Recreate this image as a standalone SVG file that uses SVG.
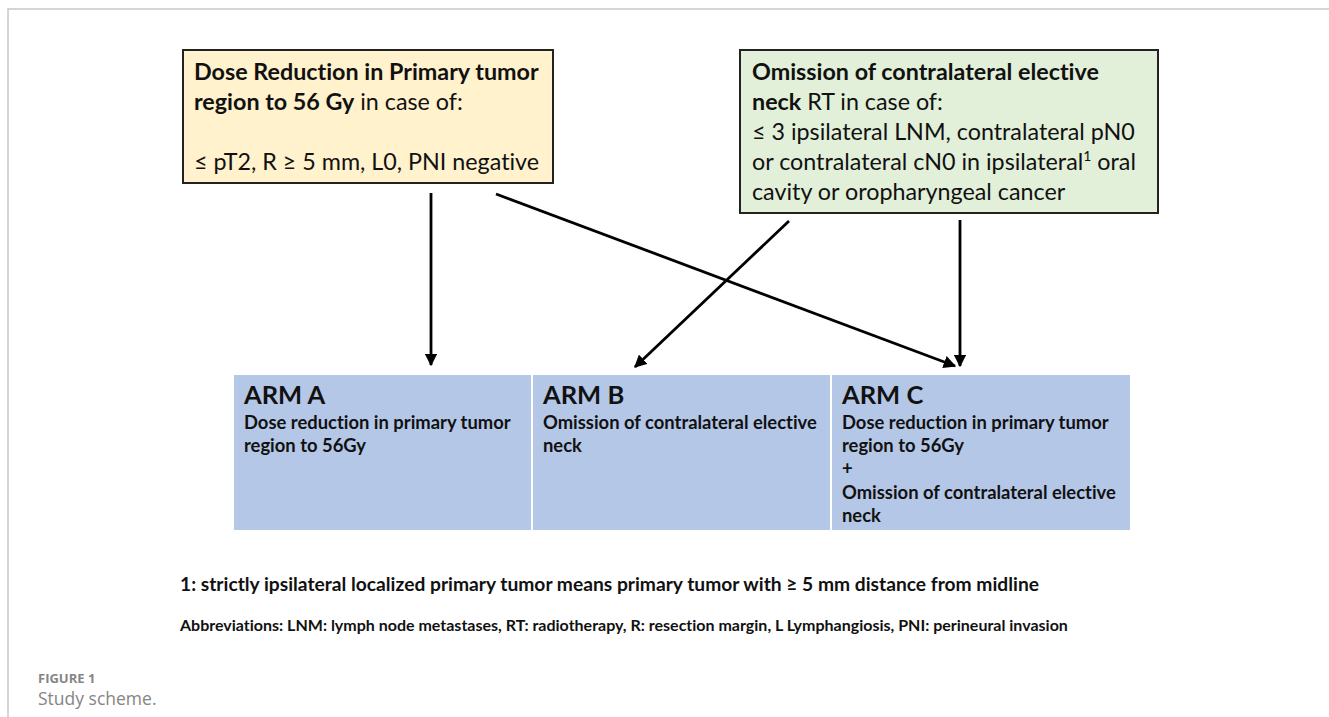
<svg xmlns="http://www.w3.org/2000/svg" width="1329" height="717" viewBox="0 0 1329 717">
<defs>
<marker id="ah" viewBox="0 0 10 10" refX="9" refY="5" markerWidth="4.5" markerHeight="4.5" orient="auto" markerUnits="strokeWidth">
<path d="M0,0 L10,5 L0,10 z" fill="#000"/>
</marker>
<style>
.t{font-family:Lato,"Liberation Sans",sans-serif;fill:#111;font-variant-ligatures:none}
.box{font-size:23.3px}
.b{font-weight:bold}
.arm{font-size:25.5px;font-weight:bold}
.sub{font-size:18.4px;font-weight:bold}
.foot{font-weight:bold}
.cap{font-family:"Open Sans","Liberation Sans",sans-serif;fill:#858585}
.conn{stroke:#000;stroke-width:2.8;fill:none;marker-end:url(#ah)}
</style>
</defs>
<rect width="1329" height="717" fill="#fff"/>
<path d="M8,717 V9 H1329" fill="none" stroke="#c8c8c8" stroke-width="1.5"/>

<g id="node-dose">
<rect x="183" y="50" width="370" height="133" fill="#fff2cc" stroke="#222" stroke-width="2"/>
<text class="t box" x="194" y="80"><tspan class="b">Dose Reduction in Primary tumor</tspan></text>
<text class="t box" x="194" y="110"><tspan class="b">region to 56 Gy</tspan> in case of:</text>
<text class="t box" x="194" y="170">≤ pT2, R ≥ 5 mm, L0, PNI negative</text>
</g>

<g id="node-omission">
<rect x="740" y="50" width="418" height="163" fill="#e2efd9" stroke="#222" stroke-width="2"/>
<text class="t box" x="752" y="80"><tspan class="b">Omission of contralateral elective</tspan></text>
<text class="t box" x="752" y="110"><tspan class="b">neck</tspan> RT in case of:</text>
<text class="t box" x="752" y="140">≤ 3 ipsilateral LNM, contralateral pN0</text>
<text class="t box" x="752" y="170">or contralateral cN0 in ipsilateral<tspan font-size="14" dy="-9">1</tspan><tspan dy="9"> oral</tspan></text>
<text class="t box" x="752" y="200">cavity or oropharyngeal cancer</text>
</g>

<g id="arm-a">
<rect x="234" y="375" width="297" height="155" fill="#b4c7e7"/>
<text class="t arm" x="244" y="404">ARM A</text>
<text class="t sub" x="244" y="429">Dose reduction in primary tumor</text>
<text class="t sub" x="244" y="452">region to 56Gy</text>
</g>

<g id="arm-b">
<rect x="533" y="375" width="297" height="155" fill="#b4c7e7"/>
<text class="t arm" x="543" y="404">ARM B</text>
<text class="t sub" x="543" y="429">Omission of contralateral elective</text>
<text class="t sub" x="543" y="452">neck</text>
</g>

<g id="arm-c">
<rect x="832" y="375" width="298" height="155" fill="#b4c7e7"/>
<text class="t arm" x="842" y="404">ARM C</text>
<text class="t sub" x="842" y="429">Dose reduction in primary tumor</text>
<text class="t sub" x="842" y="452">region to 56Gy</text>
<text class="t sub" x="842" y="475">+</text>
<text class="t sub" x="842" y="499">Omission of contralateral elective</text>
<text class="t sub" x="842" y="522">neck</text>
</g>

<g id="connectors">
<line class="conn" x1="431" y1="193" x2="431" y2="365"/>
<line class="conn" x1="496" y1="194" x2="955" y2="366"/>
<line class="conn" x1="789" y1="221" x2="635" y2="367"/>
<line class="conn" x1="960" y1="220" x2="960" y2="366"/>
</g>

<g id="notes">
<text class="t foot" x="180" y="591" font-size="18" textLength="859" lengthAdjust="spacingAndGlyphs">1: strictly ipsilateral localized primary tumor means primary tumor with ≥ 5 mm distance from midline</text>
<text class="t foot" x="180" y="631" font-size="16">Abbreviations: LNM: lymph node metastases, RT: radiotherapy, R: resection margin, L Lymphangiosis, PNI: perineural invasion</text>
</g>

<g id="caption">
<text class="cap" x="38" y="683" font-size="13" font-weight="bold">FIGURE 1</text>
<text class="cap" x="38" y="705" font-size="17.5">Study scheme.</text>
</g>
</svg>
